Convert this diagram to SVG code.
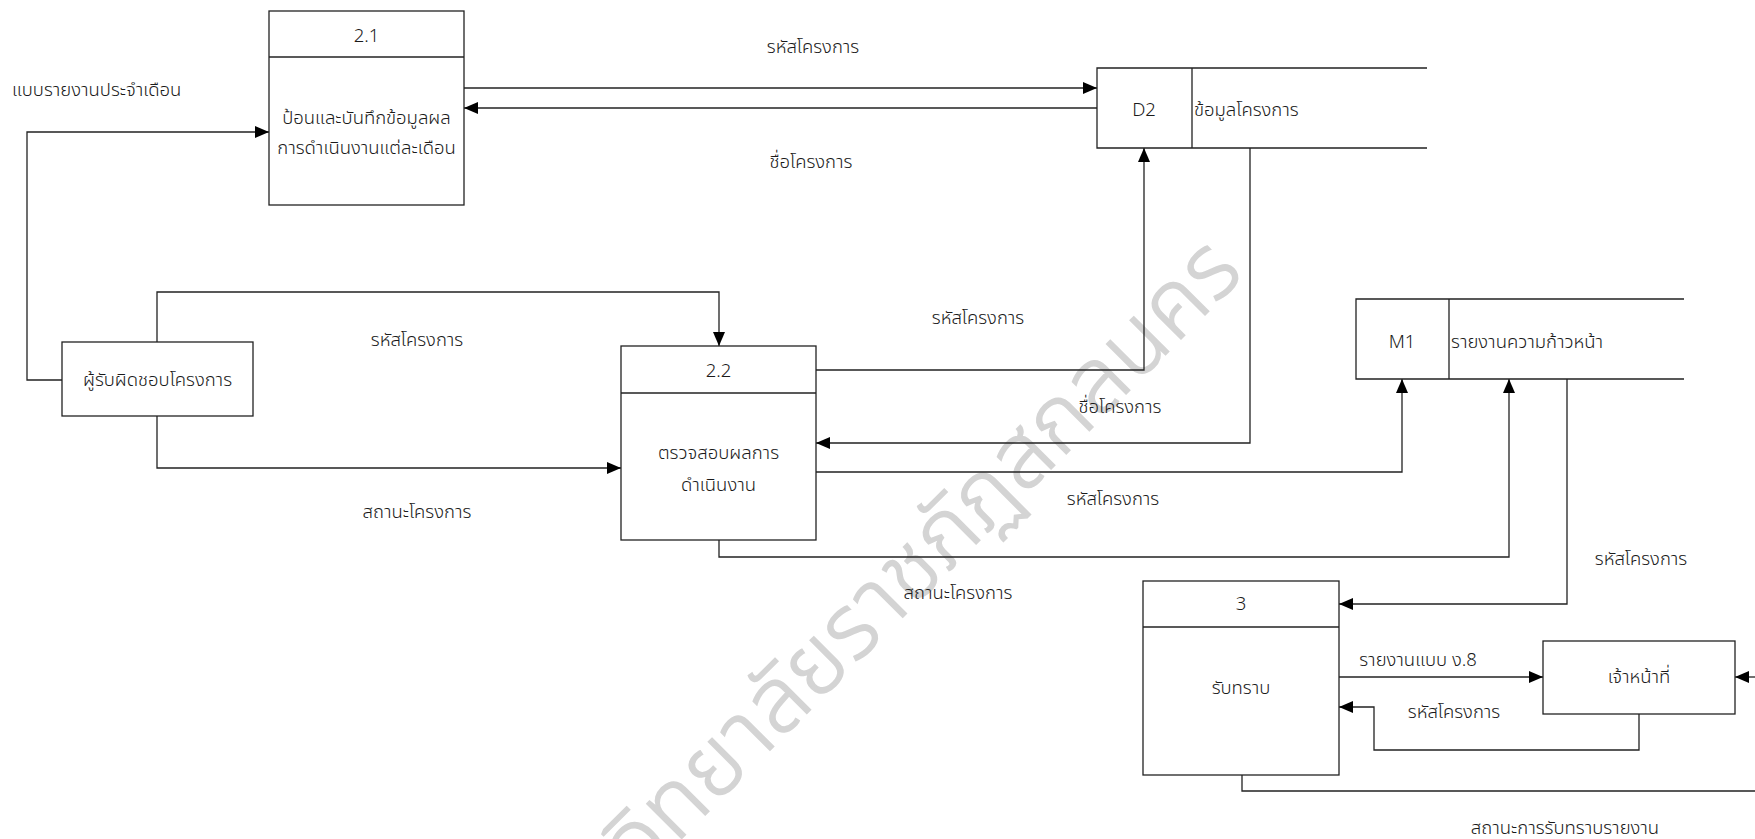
<svg xmlns="http://www.w3.org/2000/svg" width="1755" height="839" viewBox="0 0 1755 839">
  <style>
    .box { fill: #ffffff; stroke: #222222; stroke-width: 1.3; }
    .edge { fill: none; stroke: #222222; stroke-width: 1.3; }
    .flow { fill: none; stroke: #222222; stroke-width: 1.3; marker-end: url(#arrow); }
    text { font-family: "Noto Sans Thai", "Noto Sans", "Liberation Sans", sans-serif; font-size: 18.5px; fill: #1a1a1a; dominant-baseline: central; font-weight: 300; }
    .c { text-anchor: middle; }
    .wm { font-size: 90px; fill: #d4d4d4; stroke: #d4d4d4; stroke-width: 1.5; text-anchor: middle; font-weight: 300; letter-spacing: 1px; }
  </style>
  <defs>
    <marker id="arrow" markerUnits="userSpaceOnUse" markerWidth="14" markerHeight="12" refX="14" refY="6" orient="auto">
      <path d="M0,0 L14,6 L0,12 z" fill="#000000"/>
    </marker>
  </defs>

  <rect width="1755" height="839" fill="#ffffff"/>

  <!-- background mark -->
  <text class="wm" x="926" y="556" transform="rotate(-45 926 556)">วิทยาลัยราชภัฏสกลนคร</text>

  <!-- data flows -->
  <g id="connectors">
    <path class="flow" d="M62,380 H27 V132 H269"/>
    <text x="12" y="90">แบบรายงานประจำเดือน</text>

    <path class="flow" d="M157,342 V292 H719 V346"/>
    <text class="c" x="417" y="340">รหัสโครงการ</text>

    <path class="flow" d="M157,416 V468 H621"/>
    <text class="c" x="417" y="512">สถานะโครงการ</text>

    <path class="flow" d="M464,88 H1097"/>
    <text class="c" x="813" y="47">รหัสโครงการ</text>

    <path class="flow" d="M1097,108 H464"/>
    <text class="c" x="811" y="162">ชื่อโครงการ</text>

    <path class="flow" d="M816,370 H1144 V148"/>
    <text class="c" x="978" y="318">รหัสโครงการ</text>

    <path class="flow" d="M1250,148 V443 H816"/>
    <text class="c" x="1120" y="407">ชื่อโครงการ</text>

    <path class="flow" d="M816,472 H1402 V379"/>
    <text class="c" x="1113" y="499">รหัสโครงการ</text>

    <path class="flow" d="M719,540 V557 H1509 V379"/>
    <text class="c" x="958" y="593">สถานะโครงการ</text>

    <path class="flow" d="M1567,379 V604 H1339"/>
    <text class="c" x="1641" y="559">รหัสโครงการ</text>

    <path class="flow" d="M1339,677 H1543"/>
    <text class="c" x="1418" y="660">รายงานแบบ ง.8</text>

    <path class="flow" d="M1639,714 V750 H1374 V707 H1339"/>
    <text class="c" x="1454" y="712">รหัสโครงการ</text>

    <path class="flow" d="M1755,677 H1735"/>

    <path class="edge" d="M1242,775 V791 H1755"/>
    <text class="c" x="1565" y="828">สถานะการรับทราบรายงาน</text>
  </g>

  <!-- process 2.1 -->
  <g id="p2_1">
    <rect class="box" x="269" y="11" width="195" height="194"/>
    <line class="edge" x1="269" y1="57" x2="464" y2="57"/>
    <text class="c" x="366.5" y="36">2.1</text>
    <text class="c" x="366.5" y="118">ป้อนและบันทึกข้อมูลผล</text>
    <text class="c" x="366.5" y="148">การดำเนินงานแต่ละเดือน</text>
  </g>

  <!-- external entity: project owner -->
  <g id="owner">
    <rect class="box" x="62" y="342" width="191" height="74"/>
    <text class="c" x="157.5" y="380">ผู้รับผิดชอบโครงการ</text>
  </g>

  <!-- process 2.2 -->
  <g id="p2_2">
    <rect class="box" x="621" y="346" width="195" height="194"/>
    <line class="edge" x1="621" y1="393" x2="816" y2="393"/>
    <text class="c" x="718.5" y="371">2.2</text>
    <text class="c" x="718.5" y="453">ตรวจสอบผลการ</text>
    <text class="c" x="718.5" y="485">ดำเนินงาน</text>
  </g>

  <!-- data store D2 -->
  <g id="d2">
    <path class="edge" d="M1427,68 H1097 V148 H1427 M1192,68 V148"/>
    <text class="c" x="1144" y="110">D2</text>
    <text x="1194" y="110">ข้อมูลโครงการ</text>
  </g>

  <!-- data store M1 -->
  <g id="m1">
    <path class="edge" d="M1684,299 H1356 V379 H1684 M1449,299 V379"/>
    <text class="c" x="1402" y="342">M1</text>
    <text x="1451" y="342">รายงานความก้าวหน้า</text>
  </g>

  <!-- process 3 -->
  <g id="p3">
    <rect class="box" x="1143" y="581" width="196" height="194"/>
    <line class="edge" x1="1143" y1="627" x2="1339" y2="627"/>
    <text class="c" x="1241" y="604">3</text>
    <text class="c" x="1241" y="688">รับทราบ</text>
  </g>

  <!-- external entity: staff -->
  <g id="staff">
    <rect class="box" x="1543" y="641" width="192" height="73"/>
    <text class="c" x="1639" y="677">เจ้าหน้าที่</text>
  </g>
</svg>
